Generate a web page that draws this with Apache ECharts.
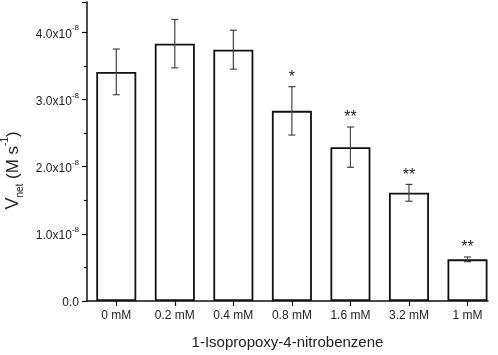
<!DOCTYPE html>
<html>
<head>
<meta charset="utf-8">
<script src="https://cdn.jsdelivr.net/npm/echarts@6/dist/echarts.min.js"></script>
<style>
html, body { margin: 0; padding: 0; background: #fff; }
#main { width: 498px; height: 355px; }
</style>
</head>
<body>
<div id="main"></div>
<script>
// values in units of 1e-8 M s^-1
var categories = ['0 mM', '0.2 mM', '0.4 mM', '0.8 mM', '1.6 mM', '3.2 mM', '1 mM'];
var vnet = [3.41, 3.83, 3.74, 2.83, 2.29, 1.61, 0.62];
var errs = [0.34, 0.36, 0.29, 0.36, 0.30, 0.125, 0.035];
var marks = ['', '', '', '*', '**', '**', '**'];

var chart = echarts.init(document.getElementById('main'));

var barData = vnet.map(function (v, i) { return [i, v]; });
var errData = vnet.map(function (v, i) { return [i, v - errs[i], v + errs[i], v]; });
var idx = categories.map(function (c, i) { return i; });

function renderErr(params, api) {
    var x = api.value(0);
    var lo = api.coord([x, api.value(1)]);
    var hi = api.coord([x, api.value(2)]);
    var cap = 3.5;
    var st = { stroke: '#444', lineWidth: 1.2 };
    var kids = [
        { type: 'line', shape: { x1: lo[0], y1: lo[1], x2: hi[0], y2: hi[1] }, style: st },
        { type: 'line', shape: { x1: lo[0] - cap, y1: lo[1], x2: lo[0] + cap, y2: lo[1] }, style: st },
        { type: 'line', shape: { x1: hi[0] - cap, y1: hi[1], x2: hi[0] + cap, y2: hi[1] }, style: st }
    ];
    var m = marks[params.dataIndex];
    if (m) {
        kids.push({ type: 'text', style: { text: m, x: hi[0], y: hi[1] - 1, align: 'center', verticalAlign: 'bottom',
            font: '16px "Liberation Sans", Arial, sans-serif', fill: '#222' } });
    }
    return { type: 'group', children: kids };
}

var option = {
    animation: false,
    grid: { left: 87, right: 10, top: 2, bottom: 54, containLabel: false, outerBoundsMode: 'none' },
    xAxis: {
        type: 'value', min: -0.5, max: 6.35,
        axisLine: { show: true, onZero: false, lineStyle: { color: '#111', width: 1.5 } },
        axisTick: { show: true, customValues: idx, length: 5, lineStyle: { color: '#111', width: 1.2 } },
        axisLabel: { customValues: idx, margin: 9, color: '#222', fontSize: 12, fontFamily: '"Liberation Sans", Arial, sans-serif',
            formatter: function (v) { return categories[Math.round(v)]; } },
        splitLine: { show: false },
        name: '1-Isopropoxy-4-nitrobenzene', nameLocation: 'middle', nameGap: 34,
        nameTextStyle: { color: '#222', fontSize: 15, fontFamily: '"Liberation Sans", Arial, sans-serif' }
    },
    yAxis: {
        type: 'value', min: 0, max: 4.45, interval: 1,
        axisLine: { show: true, onZero: false, lineStyle: { color: '#111', width: 1.5 } },
        axisTick: { show: true, length: 5, lineStyle: { color: '#111', width: 1.2 } },
        minorTick: { show: true, splitNumber: 2, length: 3, lineStyle: { color: '#111', width: 1.2 } },
        splitLine: { show: false },
        axisLabel: {
            margin: 8, showMaxLabel: false,
            formatter: function (v) {
                if (v === 0) return '{a|0.0}';
                return '{a|' + v.toFixed(1) + 'x10}{s|-8}';
            },
            rich: {
                a: { color: '#222', fontSize: 12, fontFamily: '"Liberation Sans", Arial, sans-serif', lineHeight: 16, verticalAlign: 'bottom' },
                s: { color: '#222', fontSize: 8, fontFamily: '"Liberation Sans", Arial, sans-serif', lineHeight: 16, verticalAlign: 'top', padding: [0, 0, 6, 0] }
            }
        },
        name: '{v|V}{sub|net}{p| (M s}{sup|-1}{p|)}', nameLocation: 'middle', nameGap: 63,
        nameTextStyle: {
            padding: [0, 38, 0, 0],
            rich: {
                v: { color: '#222', fontSize: 18, fontFamily: '"Liberation Sans", Arial, sans-serif', lineHeight: 22, verticalAlign: 'bottom' },
                sub: { color: '#222', fontSize: 10, fontFamily: '"Liberation Sans", Arial, sans-serif', lineHeight: 22, verticalAlign: 'bottom', padding: [0, 0, -3, 0] },
                p: { color: '#222', fontSize: 17, fontFamily: '"Liberation Sans", Arial, sans-serif', lineHeight: 22, verticalAlign: 'bottom' },
                sup: { color: '#222', fontSize: 10, fontFamily: '"Liberation Sans", Arial, sans-serif', lineHeight: 22, verticalAlign: 'top', padding: [0, 0, 8, 0] }
            }
        }
    },
    series: [
        { type: 'bar', data: barData, barWidth: 40, itemStyle: { color: '#fff', borderColor: '#111', borderWidth: 1.8 } },
        { type: 'custom', data: errData, renderItem: renderErr, encode: { x: 0, y: [1, 2] }, z: 5 }
    ]
};
chart.setOption(option);
</script>
</body>
</html>
